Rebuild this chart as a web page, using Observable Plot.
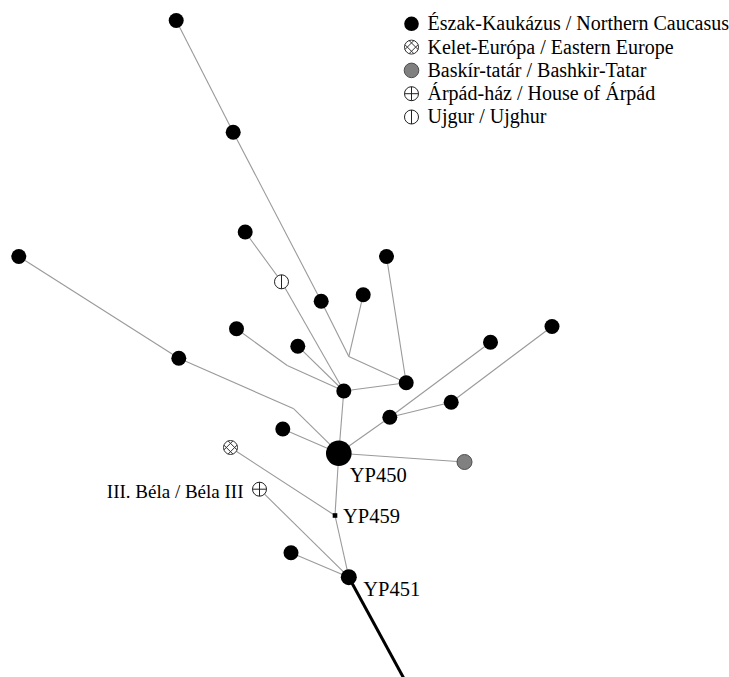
<!DOCTYPE html>
<html><head><meta charset="utf-8">
<script src="https://cdn.jsdelivr.net/npm/d3@7"></script>
<script src="https://cdn.jsdelivr.net/npm/@observablehq/plot@0.6"></script>
<style>body{margin:0;background:#fff} #chart svg{display:block}</style>
</head><body><div id="chart"></div>
<script>
// Network nodes (layout coordinates)
const nodeNames = ["A","B","C","UG1","D","E","F","MV1","L","K","G","H","MV2","I","MV3","J","Q","YP450","O","M","P","N","BT1","EE1","YP459","AP1","R","YP451","ROOT"];
const nodeX = [175.7,232.7,244.7,281,320.7,362.7,386,348.3,405.7,343.3,18.3,178.3,293.3,236,286.7,297.3,282.3,338.3,389.3,490,450.7,551.5,464,230,334.5,259,290.5,348.3,404.5];
const nodeY = [20,131.7,231.5,281.3,300.7,294.3,256,356,382.3,390.5,256,357.7,408.3,328.3,365,345.7,428.5,452.7,416.7,341.7,401.7,326,461.5,447,515,488.7,552.3,576.7,680];
const nodeGroup = ["nc","nc","nc","ug","nc","nc","nc","mv","nc","nc","nc","nc","mv","nc","mv","nc","nc","yp450","nc","nc","nc","nc","bt","ee","yp459","ap","nc","yp451","root"];
// Edges
const edgeFrom = ["A","B","D","E","MV1","F","L","C","UG1","G","H","MV2","I","MV3","J","K","Q","YP450","O","O","P","YP450","YP450","EE1","YP459","AP1","R"];
const edgeTo   = ["B","D","MV1","MV1","L","L","K","UG1","K","H","MV2","YP450","MV3","K","K","YP450","YP450","O","M","P","N","BT1","YP459","YP459","YP451","YP451","YP451"];
const rootFrom = ["YP451"];
const rootTo = ["ROOT"];
// Legend
const legendGroups = ["nc","ee","bt","ap","ug"];
const legendLabels = ["Észak-Kaukázus / Northern Caucasus","Kelet-Európa / Eastern Europe","Baskír-tatár / Bashkir-Tatar","Árpád-ház / House of Árpád","Ujgur / Ujghur"];
// Node labels
const labelTexts = ["YP450","YP459","YP451","III. Béla / Béla III"];

const nodes = nodeNames.map((n,i)=>({name:n,x:nodeX[i],y:nodeY[i],group:nodeGroup[i]}));
const byName = new Map(nodes.map(d=>[d.name,d]));
const edges = edgeFrom.map((f,i)=>({a:byName.get(f),b:byName.get(edgeTo[i])}));
const rootEdges = rootFrom.map((f,i)=>({a:byName.get(f),b:byName.get(rootTo[i])}));

// custom symbols
function circleWith(extra){
  return {draw(ctx,size){
    const r=Math.sqrt(size/Math.PI);
    ctx.moveTo(r,0); ctx.arc(0,0,r,0,2*Math.PI);
    extra(ctx,r);
  }};
}
const symArpad = circleWith((ctx,r)=>{ctx.moveTo(0,-r);ctx.lineTo(0,r);ctx.moveTo(-r,0);ctx.lineTo(r,0);});
const symUjgur = circleWith((ctx,r)=>{ctx.moveTo(0,-r);ctx.lineTo(0,r);});
const symKelet = circleWith((ctx,r)=>{
  const s=Math.SQRT1_2;
  for (const dir of [[s,s],[s,-s]]) {
    const n=[dir[1],-dir[0]];
    for (const d of [-0.42*r,0.42*r]) {
      const t=Math.sqrt(r*r-d*d);
      ctx.moveTo(n[0]*d-dir[0]*t, n[1]*d-dir[1]*t);
      ctx.lineTo(n[0]*d+dir[0]*t, n[1]*d+dir[1]*t);
    }
  }
});

const styles = {
  nc:{r:7.5, fill:"black", symbol:"circle"},
  yp450:{r:12.8, fill:"black", symbol:"circle"},
  yp451:{r:8, fill:"black", symbol:"circle"},
  yp459:{r:2.6, fill:"black", symbol:"square"},
  bt:{r:7.5, fill:"#808080", stroke:"#4d4d4d", strokeWidth:1, symbol:"circle"},
  ee:{r:7, fill:"white", stroke:"#333", strokeWidth:1, symbol:symKelet},
  ap:{r:7, fill:"white", stroke:"#222", strokeWidth:1, symbol:symArpad},
  ug:{r:7, fill:"white", stroke:"#222", strokeWidth:1, symbol:symUjgur}
};
const legendR = {nc:7.3, ee:7, bt:7.3, ap:7, ug:7};

const dotMarks = Object.keys(styles).map(g=>Plot.dot(nodes.filter(d=>d.group===g),{x:"x",y:"y",...styles[g]}));
const legend = legendGroups.map((g,i)=>({g,label:legendLabels[i],i}));
const legendDots = legendGroups.map((g,i)=>Plot.dot([legend[i]],{x:411,y:d=>23.3+23.3*d.i,...styles[g],r:legendR[g]}));

const lab = (name)=>[byName.get(name)];
const font = "'Liberation Serif','Times New Roman',serif";

const plot = Plot.plot({
  width:729, height:677, margin:0,
  x:{domain:[0,729], range:[0,729], axis:null},
  y:{domain:[0,677], range:[0,677], axis:null},
  style:{fontFamily:font, fontSize:"20px", background:"white", color:"black"},
  marks:[
    Plot.link(edges,{x1:d=>d.a.x,y1:d=>d.a.y,x2:d=>d.b.x,y2:d=>d.b.y,stroke:"#9a9a9a",strokeWidth:1.1}),
    Plot.link(rootEdges,{x1:d=>d.a.x,y1:d=>d.a.y,x2:d=>d.b.x,y2:d=>d.b.y,stroke:"black",strokeWidth:3}),
    ...dotMarks,
    Plot.text(lab("YP450"),{x:"x",y:"y",text:()=>labelTexts[0],dx:11,dy:28.5,textAnchor:"start",lineAnchor:"bottom",fill:"black",fontSize:20.5}),
    Plot.text(lab("YP459"),{x:"x",y:"y",text:()=>labelTexts[1],dx:8,dy:7.5,textAnchor:"start",lineAnchor:"bottom",fill:"black",fontSize:20.5}),
    Plot.text(lab("YP451"),{x:"x",y:"y",text:()=>labelTexts[2],dx:14.5,dy:18.5,textAnchor:"start",lineAnchor:"bottom",fill:"black",fontSize:20.5}),
    Plot.text(lab("AP1"),{x:"x",y:"y",text:()=>labelTexts[3],dx:-16,dy:8.5,textAnchor:"end",lineAnchor:"bottom",fill:"black",fontSize:19}),
    ...legendDots,
    Plot.text(legend,{x:427,y:d=>23.3+23.3*d.i,text:"label",textAnchor:"start",lineAnchor:"middle",fill:"black",fontSize:20})
  ]
});
document.getElementById("chart").appendChild(plot);
</script></body></html>
